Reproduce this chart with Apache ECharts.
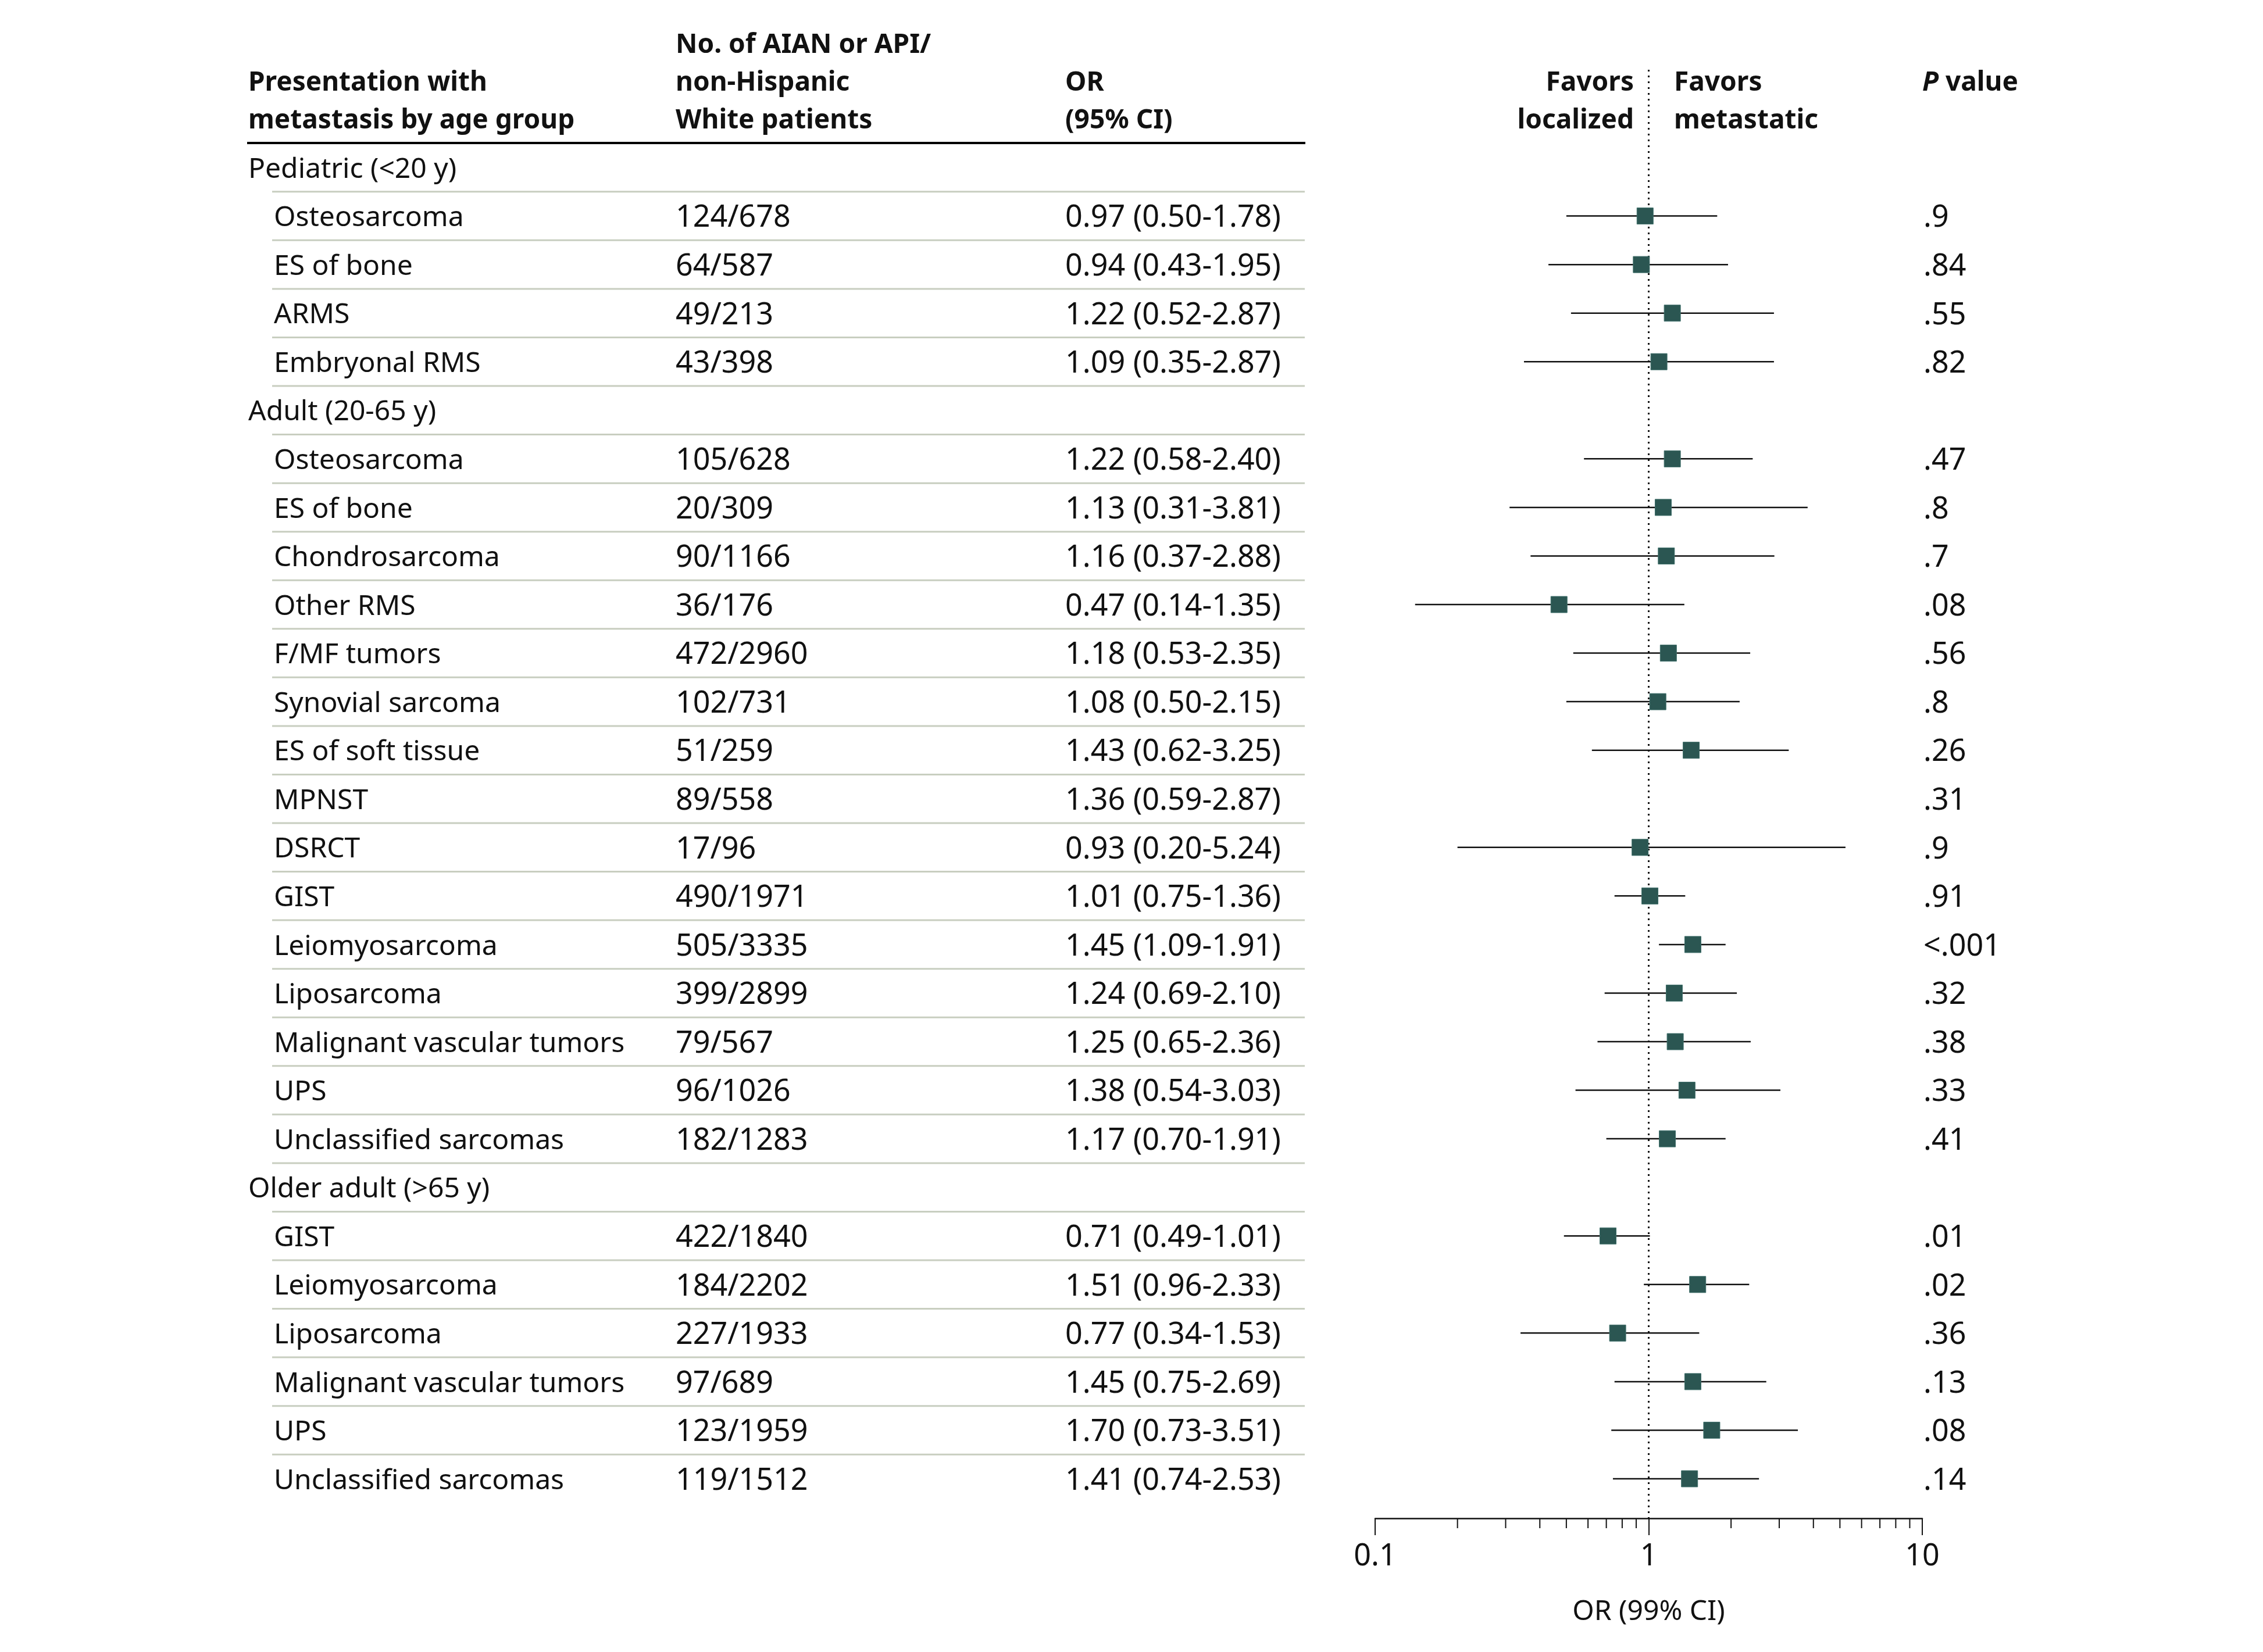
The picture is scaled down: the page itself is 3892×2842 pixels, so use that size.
<!DOCTYPE html>
<html>
<head>
<meta charset="utf-8">
<script src="https://cdn.jsdelivr.net/npm/echarts@6/dist/echarts.min.js"></script>
<style>
  html, body { margin: 0; padding: 0; background: #fff; }
  #chart { width: 3892px; height: 2842px; }
</style>
</head>
<body>
<div id="chart"></div>
<script>
// rows top to bottom, group headers have no numbers
var rowLabels = ['Pediatric (<20 y)', 'Osteosarcoma', 'ES of bone', 'ARMS', 'Embryonal RMS',
    'Adult (20-65 y)', 'Osteosarcoma', 'ES of bone', 'Chondrosarcoma', 'Other RMS', 'F/MF tumors',
    'Synovial sarcoma', 'ES of soft tissue', 'MPNST', 'DSRCT', 'GIST', 'Leiomyosarcoma', 'Liposarcoma',
    'Malignant vascular tumors', 'UPS', 'Unclassified sarcomas',
    'Older adult (>65 y)', 'GIST', 'Leiomyosarcoma', 'Liposarcoma', 'Malignant vascular tumors', 'UPS',
    'Unclassified sarcomas'];
var groupRows = [0, 5, 21];
var patientCounts = ['', '124/678', '64/587', '49/213', '43/398',
    '', '105/628', '20/309', '90/1166', '36/176', '472/2960', '102/731', '51/259', '89/558', '17/96',
    '490/1971', '505/3335', '399/2899', '79/567', '96/1026', '182/1283',
    '', '422/1840', '184/2202', '227/1933', '97/689', '123/1959', '119/1512'];
var oddsRatio = [null, 0.97, 0.94, 1.22, 1.09,
    null, 1.22, 1.13, 1.16, 0.47, 1.18, 1.08, 1.43, 1.36, 0.93, 1.01, 1.45, 1.24, 1.25, 1.38, 1.17,
    null, 0.71, 1.51, 0.77, 1.45, 1.70, 1.41];
var ciLow = [null, 0.50, 0.43, 0.52, 0.35,
    null, 0.58, 0.31, 0.37, 0.14, 0.53, 0.50, 0.62, 0.59, 0.20, 0.75, 1.09, 0.69, 0.65, 0.54, 0.70,
    null, 0.49, 0.96, 0.34, 0.75, 0.73, 0.74];
var ciHigh = [null, 1.78, 1.95, 2.87, 2.87,
    null, 2.40, 3.81, 2.88, 1.35, 2.35, 2.15, 3.25, 2.87, 5.24, 1.36, 1.91, 2.10, 2.36, 3.03, 1.91,
    null, 1.01, 2.33, 1.53, 2.69, 3.51, 2.53];
var pValues = ['', '.9', '.84', '.55', '.82',
    '', '.47', '.8', '.7', '.08', '.56', '.8', '.26', '.31', '.9', '.91', '<.001', '.32', '.38', '.33', '.41',
    '', '.01', '.02', '.36', '.13', '.08', '.14'];
// the published figure has no marker for this row
var noMarkerRows = [13];
var minorTickVals = [0.2, 0.3, 0.4, 0.5, 0.6, 0.7, 0.8, 0.9, 2, 3, 4, 5, 6, 7, 8, 9];

var FONT = 'Noto Sans';
var FS = 48;     // words
var FSN = 52;    // numbers
var TXT = '#111';
var BOX = '#2b5652';
var DY = 4;      // nudge text down a little

var chart = echarts.init(document.getElementById('chart'));

var tableData = [], ciData = [];
for (var i = 0; i < rowLabels.length; i++) {
    tableData.push([1, i]);
    if (oddsRatio[i] != null && noMarkerRows.indexOf(i) < 0) {
        ciData.push([i, oddsRatio[i], ciLow[i], ciHigh[i]]);
    }
}

function orText(i) {
    if (oddsRatio[i] == null) return '';
    return oddsRatio[i].toFixed(2) + ' (' + ciLow[i].toFixed(2) + '-' + ciHigh[i].toFixed(2) + ')';
}

function txt(x, y, s, extra) {
    var st = {text: s, x: x, y: y + DY, fill: TXT, fontFamily: FONT, fontSize: FS, verticalAlign: 'middle', align: 'left'};
    if (extra) for (var k in extra) st[k] = extra[k];
    return {type: 'text', style: st};
}

var headerY1 = 74, headerY2 = 139, headerY3 = 204;
var hb = {fontWeight: 'bold', fontSize: 46};
var num = {fontSize: FSN};

var option = {
    animation: false,
    backgroundColor: '#fff',
    grid: {left: 2365, right: 586, top: 120, bottom: 230},
    xAxis: {
        type: 'log', logBase: 10, min: 0.1, max: 10,
        axisLine: {show: true, onZero: false, lineStyle: {color: '#111', width: 2.5}},
        axisTick: {show: true, length: 29, lineStyle: {color: '#111', width: 2}},
        axisLabel: {color: TXT, fontFamily: FONT, fontSize: FSN, margin: 40,
            formatter: function (v) { return String(+v.toPrecision(3)); }},
        splitLine: {show: false},
        name: 'OR (99% CI)', nameLocation: 'middle', nameGap: 137,
        nameTextStyle: {color: TXT, fontFamily: FONT, fontSize: FS}
    },
    yAxis: {type: 'value', inverse: true, min: -2.011, max: 27.814, show: false},
    graphic: [
        txt(427, headerY2, 'Presentation with', hb),
        txt(427, headerY3, 'metastasis by age group', hb),
        txt(1162, headerY1, 'No. of AIAN or API/', hb),
        txt(1162, headerY2, 'non-Hispanic', hb),
        txt(1162, headerY3, 'White patients', hb),
        txt(1832, headerY2, 'OR', hb),
        txt(1832, headerY3, '(95% CI)', hb),
        txt(2810, headerY2, 'Favors', {fontWeight: 'bold', fontSize: 46, align: 'right'}),
        txt(2810, headerY3, 'localized', {fontWeight: 'bold', fontSize: 46, align: 'right'}),
        txt(2879, headerY2, 'Favors', hb),
        txt(2879, headerY3, 'metastatic', hb),
        txt(3306, headerY2, '{i|P} value', {fontWeight: 'bold', fontSize: 46,
            rich: {i: {fontStyle: 'italic', fontWeight: 'bold', fontFamily: FONT, fontSize: 46, fill: TXT}}}),
        {type: 'line', shape: {x1: 425, y1: 246, x2: 2245, y2: 246}, style: {stroke: '#000', lineWidth: 4}}
    ],
    series: [
        {
            // table text columns and row separators
            type: 'custom', clip: false, silent: true,
            data: tableData,
            renderItem: function (params, api) {
                var i = api.value(1);
                var y = api.coord([1, i])[1];
                var yNext = api.coord([1, i + 0.5])[1];
                var isGroup = groupRows.indexOf(i) >= 0;
                var kids = [
                    txt(isGroup ? 427 : 471, y, rowLabels[i]),
                    txt(1162, y, patientCounts[i], num),
                    txt(1832, y, orText(i), num),
                    txt(3308, y, pValues[i], num)
                ];
                if (i < rowLabels.length - 1) {
                    kids.push({type: 'line', shape: {x1: 468, y1: yNext, x2: 2244, y2: yNext},
                        style: {stroke: '#c8cec0', lineWidth: 3}});
                }
                return {type: 'group', children: kids};
            }
        },
        {
            // dotted line of no effect
            type: 'custom', clip: false, silent: true,
            data: [[1]],
            renderItem: function (params, api) {
                var x = api.coord([api.value(0), 0])[0];
                var cs = params.coordSys;
                return {type: 'line', shape: {x1: x, y1: cs.y, x2: x, y2: cs.y + cs.height},
                    style: {stroke: '#111', lineWidth: 3, lineDash: [3, 7]}};
            }
        },
        {
            // minor ticks of the log axis
            type: 'custom', clip: false, silent: true,
            data: minorTickVals.map(function (v) { return [v]; }),
            renderItem: function (params, api) {
                var x = api.coord([api.value(0), 0])[0];
                var cs = params.coordSys;
                var yb = cs.y + cs.height;
                return {type: 'line', shape: {x1: x, y1: yb, x2: x, y2: yb + 17},
                    style: {stroke: '#111', lineWidth: 2}};
            }
        },
        {
            // CI whiskers and OR squares
            type: 'custom', clip: false,
            data: ciData,
            encode: {x: [1, 2, 3], y: 0},
            renderItem: function (params, api) {
                var row = api.value(0);
                var p = api.coord([api.value(1), row]);
                var a = api.coord([api.value(2), row]);
                var b = api.coord([api.value(3), row]);
                var s = 28;
                return {type: 'group', children: [
                    {type: 'line', shape: {x1: a[0], y1: a[1], x2: b[0], y2: b[1]},
                        style: {stroke: '#111', lineWidth: 2.5}},
                    {type: 'rect', shape: {x: p[0] - s / 2, y: p[1] - s / 2, width: s, height: s},
                        style: {fill: BOX, stroke: '#3f6f6a', lineWidth: 1}}
                ]};
            }
        }
    ]
};

chart.setOption(option);
</script>
</body>
</html>
